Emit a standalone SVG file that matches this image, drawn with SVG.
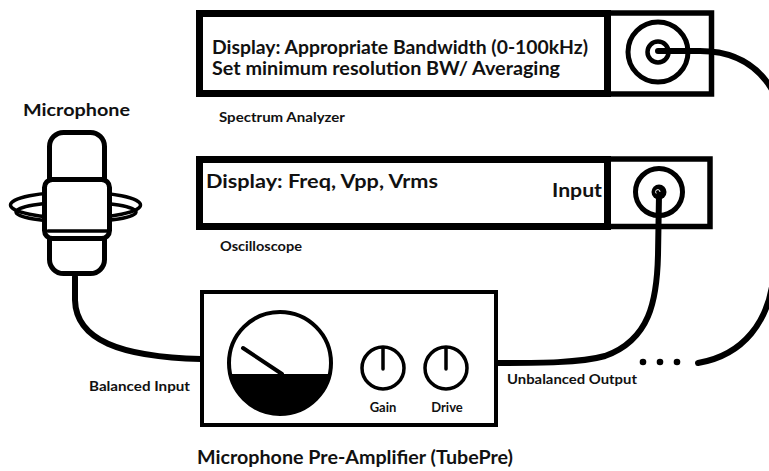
<svg xmlns="http://www.w3.org/2000/svg" width="769" height="471" viewBox="0 0 769 471">
  <style>
    .t { font-family: Lato, "Liberation Sans", sans-serif; font-weight: 700; fill: #111; }
    .big { font-size: 19px; }
    .spec { font-size: 18px; }
    .mid { font-size: 17px; }
    .title { font-size: 19px; }
    .sm { font-size: 13px; }
    .ln { fill: none; stroke: #000; stroke-linecap: round; stroke-linejoin: round; }
    .cable { fill: none; stroke: #000; stroke-width: 6; stroke-linecap: round; }
  </style>
  <rect width="769" height="471" fill="#fff"/>

  <!-- Spectrum analyzer -->
  <g id="spectrum-analyzer">
    <rect x="199.5" y="13.5" width="408" height="80" fill="#fff" stroke="#000" stroke-width="7"/>
    <rect x="607.5" y="13" width="104" height="81" fill="none" stroke="#000" stroke-width="5.5"/>
    <circle cx="658" cy="52" r="30" class="ln" stroke-width="5"/>
    <circle cx="658" cy="52" r="10.5" class="ln" stroke-width="4.5"/>
    <text class="t spec" x="212" y="54" textLength="376" lengthAdjust="spacingAndGlyphs">Display: Appropriate Bandwidth (0-100kHz)</text>
    <text class="t spec" x="212" y="75" textLength="348" lengthAdjust="spacingAndGlyphs">Set minimum resolution BW/ Averaging</text>
    <text class="t sm" x="219" y="122" textLength="126" lengthAdjust="spacingAndGlyphs">Spectrum Analyzer</text>
  </g>

  <!-- Oscilloscope -->
  <g id="oscilloscope">
    <rect x="199.5" y="159.5" width="408" height="67" fill="#fff" stroke="#000" stroke-width="7"/>
    <rect x="607" y="159" width="103" height="67.5" fill="none" stroke="#000" stroke-width="5.5"/>
    <circle cx="659" cy="192" r="23.5" class="ln" stroke-width="5"/>
    <circle cx="659" cy="192" r="7.5" fill="#000"/>
    <path d="M657.5,194 a2.2,2.2 0 1 1 2.5,-2" fill="none" stroke="#fff" stroke-width="1"/>
    <text class="t big" x="206" y="188" textLength="232" lengthAdjust="spacingAndGlyphs">Display: Freq, Vpp, Vrms</text>
    <text class="t big" x="602" y="197" text-anchor="end" textLength="50" lengthAdjust="spacingAndGlyphs">Input</text>
    <text class="t sm" x="220" y="251" textLength="82" lengthAdjust="spacingAndGlyphs">Oscilloscope</text>
  </g>

  <!-- Microphone: capsule with a ring around it -->
  <g id="microphone">
    <ellipse cx="75.5" cy="205" rx="65" ry="13" class="ln" stroke-width="3.5"/>
    <ellipse cx="76" cy="212" rx="60" ry="10" class="ln" stroke-width="3.5"/>
    <rect x="49.5" y="132.5" width="55" height="141" rx="14" fill="#fff" stroke="#000" stroke-width="5"/>
    <rect x="44.5" y="179.5" width="65" height="59" rx="8" fill="#fff" stroke="#000" stroke-width="5"/>
    <line x1="48" y1="231" x2="107" y2="231" class="ln" stroke-width="3.5"/>
    <text class="t mid" x="23" y="116" textLength="107" lengthAdjust="spacingAndGlyphs">Microphone</text>
  </g>

  <!-- Microphone pre-amplifier -->
  <g id="preamp">
    <rect x="202" y="292" width="294" height="133" fill="#fff" stroke="#000" stroke-width="4"/>
    <path d="M230.2,374 A51,51 0 0 0 329.8,374 Z" fill="#000"/>
    <circle cx="280" cy="363" r="51" class="ln" stroke-width="4"/>
    <line x1="243" y1="348" x2="282" y2="374" class="ln" stroke-width="4"/>
    <circle cx="383" cy="368" r="21" class="ln" stroke-width="3.5"/>
    <line x1="383" y1="348" x2="383" y2="369" class="ln" stroke-width="3.5"/>
    <circle cx="446" cy="368" r="21" class="ln" stroke-width="3.5"/>
    <line x1="446" y1="348" x2="446" y2="369" class="ln" stroke-width="3.5"/>
    <text class="t sm" x="383" y="412" text-anchor="middle">Gain</text>
    <text class="t sm" x="447" y="412" text-anchor="middle">Drive</text>
    <text class="t title" x="197" y="464" textLength="316" lengthAdjust="spacingAndGlyphs">Microphone Pre-Amplifier (TubePre)</text>
  </g>

  <!-- Cables -->
  <g id="connectors">
    <path class="cable" d="M75,277 L75,300 C76,340 120,357 201,359"/>
    <path class="cable" d="M659,195 L658,255 C657,300 650,340 605,356 C580,363 540,363 498,363"/>
    <path class="cable" d="M658,51 L700,51 C728,51 757,60 775,95"/>
    <path class="cable" d="M773,280 C768,320 745,355 698,363"/>
    <circle cx="643" cy="362" r="3.3" fill="#000"/>
    <circle cx="660" cy="362" r="3.3" fill="#000"/>
    <circle cx="677" cy="362" r="3.3" fill="#000"/>
    <text class="t sm" x="89" y="391" textLength="101" lengthAdjust="spacingAndGlyphs">Balanced Input</text>
    <text class="t sm" x="507" y="384" textLength="130" lengthAdjust="spacingAndGlyphs">Unbalanced Output</text>
  </g>
</svg>
